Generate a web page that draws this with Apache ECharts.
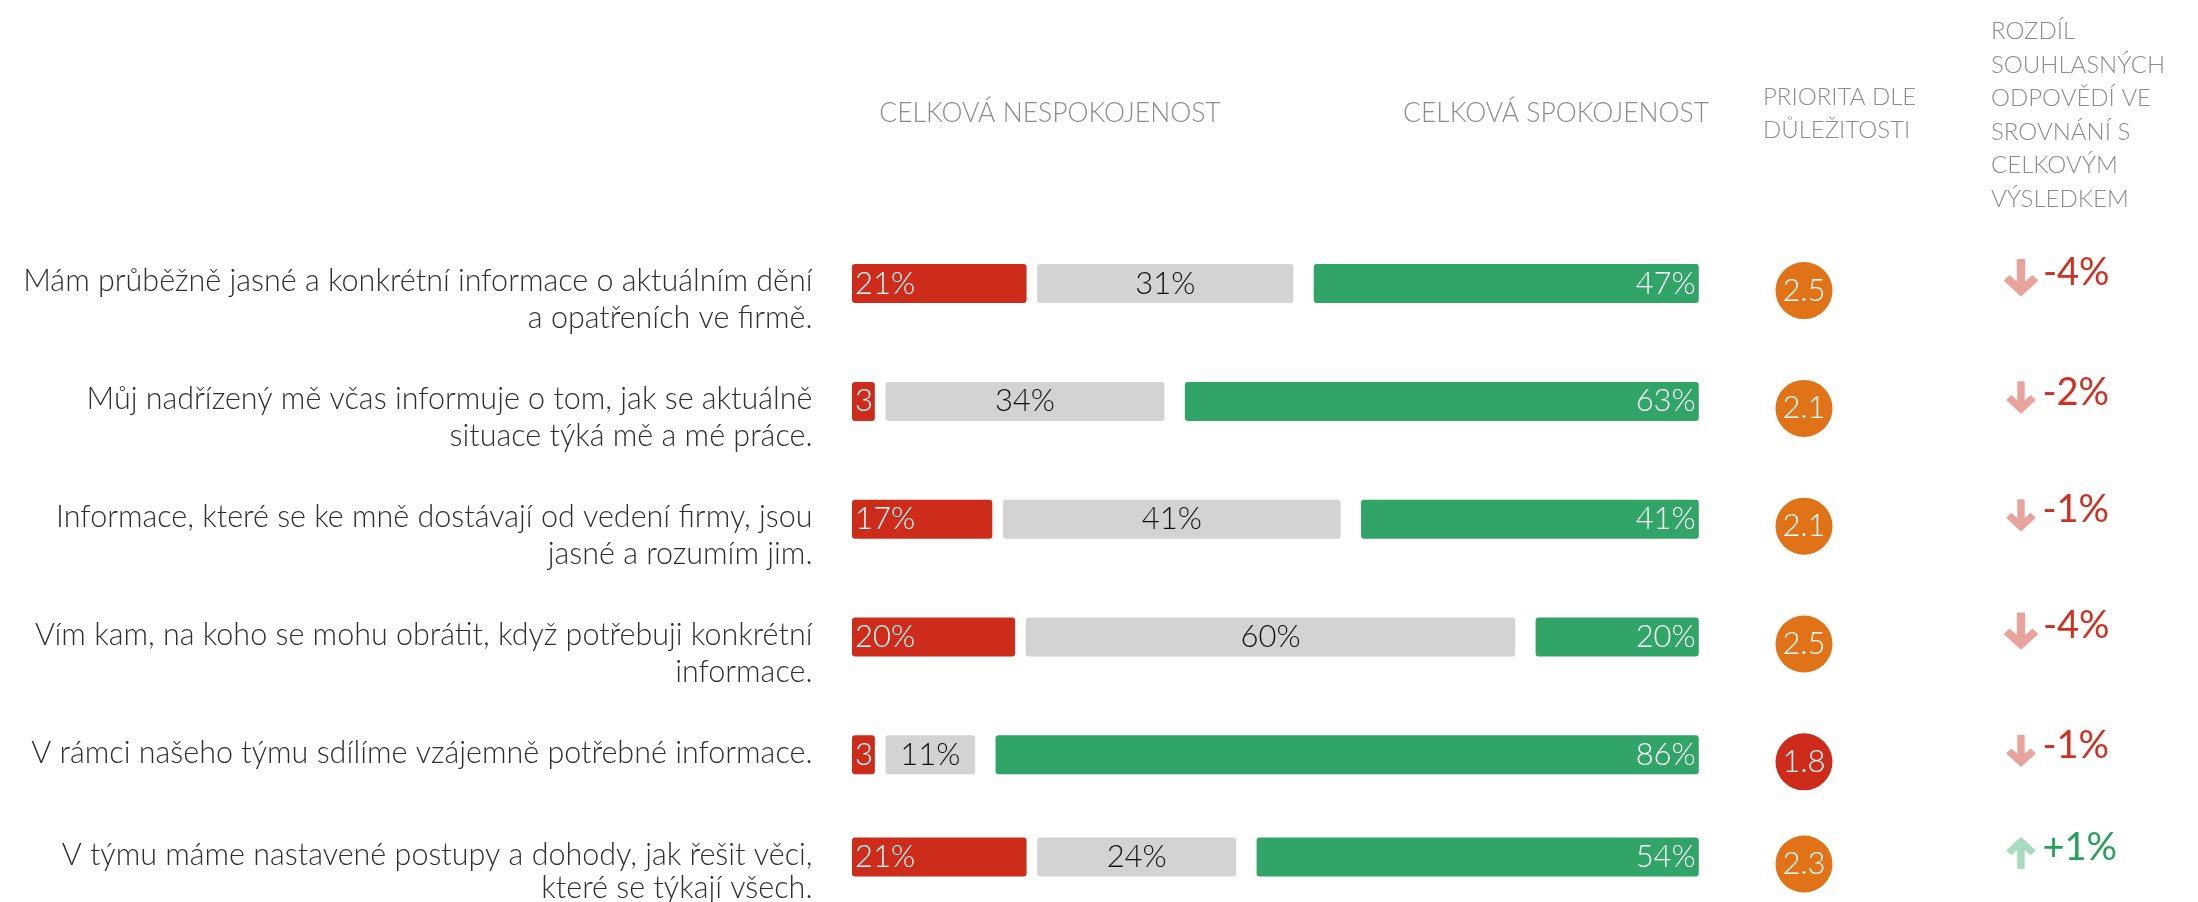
<!DOCTYPE html>
<html><head><meta charset="utf-8">
<script src="https://cdn.jsdelivr.net/npm/echarts@6/dist/echarts.min.js"></script>
<style>html,body{margin:0;padding:0;background:#fff}#c{width:2198px;height:902px}</style>
</head><body><div id="c"></div>
<script>
// ---------- data ----------
const CATEGORIES = [
  'Mám průběžně jasné a konkrétní informace o aktuálním dění\na opatřeních ve firmě.',
  'Můj nadřízený mě včas informuje o tom, jak se aktuálně\nsituace týká mě a mé práce.',
  'Informace, které se ke mně dostávají od vedení firmy, jsou\njasné a rozumím jim.',
  'Vím kam, na koho se mohu obrátit, když potřebuji konkrétní\ninformace.',
  'V rámci našeho týmu sdílíme vzájemně potřebné informace.',
  'V týmu máme nastavené postupy a dohody, jak řešit věci,\nkteré se týkají všech.'
];
const DISSATISFIED = [21.4, 2.8, 17.2, 20.0, 2.8, 21.4];
const NEUTRAL      = [31.4, 34.2, 41.4, 60.0, 11.0, 24.4];
const SATISFIED    = [47.2, 63.0, 41.4, 20.0, 86.2, 54.2];
const PRIORITY     = [2.5, 2.1, 2.1, 2.5, 1.8, 2.3];
const DIFF         = [-4, -2, -1, -4, -1, 1];
const HEAD_DIS  = 'CELKOVÁ NESPOKOJENOST';
const HEAD_SAT  = 'CELKOVÁ SPOKOJENOST';
const HEAD_PRIO = 'PRIORITA DLE\nDŮLEŽITOSTI';
const HEAD_DIFF = 'ROZDÍL\nSOUHLASNÝCH\nODPOVĚDÍ VE\nSROVNÁNÍ S\nCELKOVÝM\nVÝSLEDKEM';

// ---------- layout / style ----------
const FONT = 'Lato, "Open Sans", sans-serif';
const C_RED = '#cd2c1b', C_GRAY = '#d3d3d3', C_GREEN = '#31a567', C_ORANGE = '#e07318';
const C_DOWN_ARROW = '#e8a39c', C_UP_ARROW = '#a8dbbf', C_DOWN_TXT = '#d0301f', C_UP_TXT = '#27a05a';
const GAP1 = 1.3, GAP2 = 2.5;          // spacing between bar segments (axis units)
const X_MAX = 165;                     // axis span of the whole row band
const PRIO_X = 116.7, DIFF_X = 143.3;  // column positions on the row band axis
const GRID_LEFT = 852;
const ROW_GROUPS = [
  {start:0, end:5, top:224.7, height:589, line: 37},
  {start:5, end:6, top:818,   height:78,  line: 33}
];
const NARROW_PX = 40;                  // red segments narrower than this only show the number

const ARROW_DOWN = 'path://M12,0 L18,0 L18,24 L25.5,16.5 L29.7,20.7 L15,35.4 L0.3,20.7 L4.5,16.5 L12,24 Z';
const ARROW_UP   = 'path://M12,35.4 L18,35.4 L18,11.4 L25.5,18.9 L29.7,14.7 L15,0 L0.3,14.7 L4.5,18.9 L12,11.4 Z';

const chart = echarts.init(document.getElementById('c'), null, {renderer: 'canvas'});

function buildOption(redWidths) {
  const grid = [], xAxis = [], yAxis = [], series = [];
  ROW_GROUPS.forEach((g, gi) => {
    const idx = [];
    for (let i = g.start; i < g.end; i++) idx.push(i);
    grid.push({left: GRID_LEFT, right: 0, top: g.top, height: g.height, containLabel: false});
    xAxis.push({type: 'value', gridIndex: gi, min: 0, max: X_MAX, show: false});
    yAxis.push({type: 'category', gridIndex: gi, inverse: true, data: idx.map(String), show: false});
    const common = {type: 'bar', xAxisIndex: gi, yAxisIndex: gi, stack: 'row' + gi, barWidth: 39, silent: true, animation: false};
    series.push(Object.assign({}, common, {
      data: idx.map(i => ({value: DISSATISFIED[i], narrow: redWidths ? redWidths[i] < NARROW_PX : false})),
      itemStyle: {color: C_RED, borderRadius: 3},
      label: {show: true, position: 'insideLeft', distance: 3, color: '#fff', fontFamily: FONT, fontWeight: 300, fontSize: 31,
              formatter: p => Math.round(p.value) + (p.data.narrow ? '' : '%')}
    }));
    series.push(Object.assign({}, common, {data: idx.map(() => GAP1), itemStyle: {color: 'transparent'}}));
    series.push(Object.assign({}, common, {
      data: idx.map(i => NEUTRAL[i]),
      itemStyle: {color: C_GRAY, borderRadius: 3},
      label: {show: true, position: 'inside', color: '#111', fontFamily: FONT, fontWeight: 300, fontSize: 31,
              formatter: p => Math.round(p.value) + '%'}
    }));
    series.push(Object.assign({}, common, {data: idx.map(() => GAP2), itemStyle: {color: 'transparent'}}));
    series.push(Object.assign({}, common, {
      data: idx.map(i => SATISFIED[i]),
      itemStyle: {color: C_GREEN, borderRadius: 3},
      label: {show: true, position: 'insideRight', distance: 3, color: '#fff', fontFamily: FONT, fontWeight: 300, fontSize: 31,
              formatter: p => Math.round(p.value) + '%'}
    }));
    // row labels
    series.push({
      type: 'scatter', xAxisIndex: gi, yAxisIndex: gi, silent: true, animation: false,
      symbolSize: 1, itemStyle: {color: 'transparent', opacity: 1},
      data: idx.map((i, k) => ({value: [0, k], name: CATEGORIES[i]})),
      label: {show: true, position: 'left', distance: 39, align: 'right', verticalAlign: 'top',
              offset: [0, -g.line / 2 - 2], lineHeight: g.line,
              color: '#2e2e2e', fontFamily: FONT, fontWeight: 300, fontSize: 30.5, formatter: p => p.name}
    });
    // priority circles
    series.push({
      type: 'scatter', xAxisIndex: gi, yAxisIndex: gi, silent: true, animation: false,
      symbol: 'circle', symbolSize: 57, symbolOffset: [0, 7],
      itemStyle: {opacity: 1},
      data: idx.map((i, k) => ({value: [PRIO_X, k, PRIORITY[i]],
             itemStyle: {color: PRIORITY[i] < 2 ? C_RED : C_ORANGE, opacity: 1}})),
      label: {show: true, position: 'inside', color: '#fff', fontFamily: FONT, fontWeight: 300, fontSize: 31,
              formatter: p => p.value[2].toFixed(1)}
    });
    // difference arrows + text
    series.push({
      type: 'scatter', xAxisIndex: gi, yAxisIndex: gi, silent: true, animation: false,
      itemStyle: {opacity: 1},
      data: idx.map((i, k) => {
        const d = DIFF[i], up = d > 0, big = Math.abs(d) >= 3;
        const ac = up ? C_UP_ARROW : C_DOWN_ARROW;
        return {
          value: [DIFF_X, k, d],
          symbol: up ? ARROW_UP : ARROW_DOWN,
          symbolSize: big ? [32, 35] : [27, 30],
          symbolOffset: [0, big ? -6 : -4],
          itemStyle: {color: ac, borderColor: ac, borderWidth: 2, borderJoin: 'round', opacity: 1},
          label: {color: up ? C_UP_TXT : C_DOWN_TXT, distance: big ? 5 : 7}
        };
      }),
      label: {show: true, position: 'right', fontFamily: FONT, fontWeight: 400, fontSize: 38, offset: [0, -5],
              formatter: p => (p.value[2] > 0 ? '+' : '') + p.value[2] + '%'}
    });
  });

  const headStyle = {fill: '#8c8c8c', fontFamily: FONT, fontWeight: 300};
  return {
    backgroundColor: '#fff',
    animation: false,
    grid, xAxis, yAxis, series,
    graphic: [
      {type: 'text', x: 1050, y: 113, style: Object.assign({text: HEAD_DIS, textAlign: 'center', textVerticalAlign: 'middle', fontSize: 26.5}, headStyle)},
      {type: 'text', x: 1556, y: 113, style: Object.assign({text: HEAD_SAT, textAlign: 'center', textVerticalAlign: 'middle', fontSize: 26.5}, headStyle)},
      {type: 'text', x: 1763, y: 113.5, style: Object.assign({text: HEAD_PRIO, textAlign: 'left', textVerticalAlign: 'middle', lineHeight: 33, fontSize: 24}, headStyle)},
      {type: 'text', x: 1991, y: 115.5, style: Object.assign({text: HEAD_DIFF, textAlign: 'left', textVerticalAlign: 'middle', lineHeight: 33.5, fontSize: 24}, headStyle)}
    ]
  };
}

chart.setOption(buildOption(null));
// widths of the red segments in pixels (through the axis scale) to decide whether their label fits
const redWidths = DISSATISFIED.map((v, i) => {
  const gi = ROW_GROUPS.findIndex(g => i >= g.start && i < g.end);
  return chart.convertToPixel({xAxisIndex: gi}, v) - chart.convertToPixel({xAxisIndex: gi}, 0);
});
chart.setOption(buildOption(redWidths), true);
</script></body></html>
